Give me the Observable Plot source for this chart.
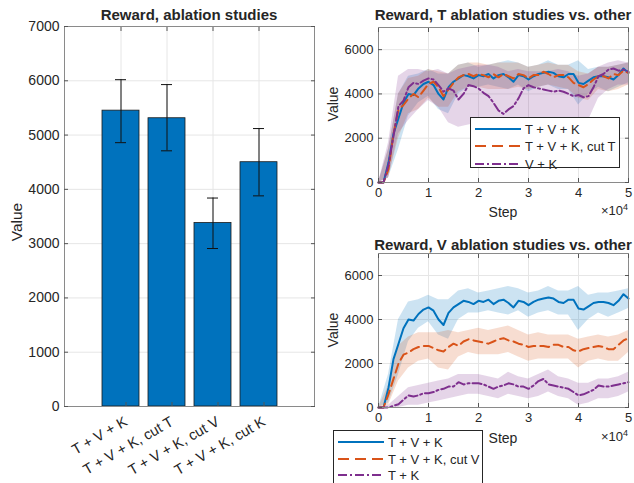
<!DOCTYPE html>
<html><head><meta charset="utf-8">
<script src="https://cdn.jsdelivr.net/npm/d3@7"></script>
<script src="https://cdn.jsdelivr.net/npm/@observablehq/plot@0.6"></script>
<style>
body{margin:0;background:#fff;font-family:"Liberation Sans",Arial,sans-serif;color:#262626}
#fig{position:relative;width:634px;height:483px;overflow:hidden;background:#fff}
#fig svg{position:absolute;overflow:visible}
.t{position:absolute;white-space:nowrap;line-height:1}
.title{font-weight:bold;font-size:15px;transform:translate(-50%,-50%)}
.lab{font-size:14px;transform:translate(-50%,-50%)}
.ylab{font-size:14px;transform:translate(-50%,-50%) rotate(-90deg)}
.ylab.big{font-size:15.5px}
.exp{font-size:13px}
.exp sup{font-size:9px;vertical-align:5px}
.legend{position:absolute;background:#fff;border:1px solid #262626;box-sizing:border-box;font-size:13px}
.legend .row{position:absolute;left:0;display:flex;align-items:center}
</style></head>
<body><div id="fig"></div>
<script>
// ---------------- data ----------------
// bar chart
const barCats = ["T + V + K", "T + V + K, cut T", "T + V + K, cut V", "T + V + K, cut K"];
const barMean = [5450, 5310, 3380, 4500];
const barLow  = [4860, 4710, 2910, 3880];
const barHigh = [6020, 5930, 3840, 5120];
const barTicksY = [0, 1000, 2000, 3000, 4000, 5000, 6000, 7000];

// time series (steps in thousands)
const stepK = [0,1,2,3,4,5,6,7,8,9,10,11,12,13,14,15,16,17,18,19,20,21,22,23,24,25,26,27,28,29,30,31,32,33,34,35,36,37,38,39,40,41,42,43,44,45,46,47,48,49,50];
const tvk   = [0,0,900,2200,2900,3600,4000,3950,4250,4450,4550,4400,4000,3750,4300,4550,4700,4850,4800,4700,4850,4800,4900,4700,4850,4900,4750,4550,4850,4800,4650,4800,4900,4950,5000,4950,4800,4750,4900,4900,4500,4450,4600,4750,4800,4800,4750,4650,4850,5150,4950];
const cutT  = [0,0,600,2200,3300,3500,3800,4000,3850,4150,4450,4550,4300,3900,4200,4500,4750,4850,4900,4800,4900,4850,4750,4900,4750,4900,4800,4700,4900,4850,4700,4850,4850,5000,4900,4750,4850,4850,4750,4500,4400,4300,4450,4650,4800,4800,4700,4900,4850,5050,4950];
const vk    = [0,0,800,2100,3450,3700,4300,4500,4450,4600,4700,4650,4400,4100,4250,4150,3750,4000,4400,4350,4250,4050,3900,3600,3250,3100,3300,3450,3800,4250,4400,4300,4250,4200,4150,4100,4150,4100,4000,3900,3950,3850,3900,4300,4800,4900,5100,5150,5050,5100,5000];
const cutV  = [0,0,600,1300,2000,2400,2500,2650,2750,2800,2800,2700,2600,2550,2750,2900,2800,3000,3100,3050,3000,2950,2900,3000,3100,3150,3050,3000,2900,2850,2750,2800,2800,2800,2750,2850,2850,2750,2750,2600,2550,2650,2700,2750,2800,2750,2650,2650,2850,3050,3150];
const tk    = [0,0,0,80,150,350,550,500,550,650,650,700,800,850,950,950,1150,1050,1100,1100,1100,1050,950,850,950,1000,1100,1050,950,950,850,1000,1200,1300,1050,1000,950,900,850,700,550,600,700,800,1000,950,950,1000,1050,1100,1150];

// shaded bands (every 2000 steps)
const bandK   = [0,2,4,6,8,10,12,14,16,18,20,22,24,26,28,30,32,34,36,38,40,42,44,46,48,50];
const tvkHi   = [0,1500,4000,4800,4900,5100,4900,4900,5300,5400,5200,5300,5400,5500,5400,5200,5300,5500,5300,5300,5500,5100,5200,5200,5300,5400];
const tvkLo   = [0,200,1500,3000,3600,3900,3300,3100,4000,4300,4300,4400,4300,4200,4400,4100,4300,4400,4200,4200,3500,4000,4300,4100,4300,4500];
const cutTHi  = [0,1500,4000,4700,4800,5100,5000,4900,5300,5400,5400,5300,5400,5400,5400,5200,5300,5400,5300,5300,5000,4900,5200,5200,5300,5400];
const cutTLo  = [0,200,2000,3100,3300,3800,3400,3400,4100,4300,4300,4200,4200,4200,4300,4200,4300,4400,4300,4200,3800,3700,4200,4100,4200,4400];
const vkHi    = [0,1800,4800,5100,5100,5000,5100,4900,5100,5200,5300,5300,5200,5000,5100,5000,5000,5000,5100,5000,4800,4900,5200,5400,5500,5400];
const vkLo    = [0,200,2200,2800,3300,3700,3400,2700,2500,2600,2700,2800,2500,2400,2400,2600,2800,2800,2800,2800,2800,2800,3800,4200,4400,4400];
const cutVHi  = [0,1000,2800,3200,3400,3400,3400,3500,3400,3500,3600,3500,3600,3700,3500,3300,3400,3300,3300,3300,3100,3200,3300,3200,3300,3500];
const cutVLo  = [0,100,1200,1800,2100,2200,1800,1700,2300,2500,2400,2400,2400,2500,2300,2100,2200,2200,2200,2200,1800,2100,2200,2100,2100,2500];
const tkHi    = [0,100,500,900,1000,1100,1200,1300,1500,1500,1500,1400,1300,1600,1400,1300,1500,1700,1400,1300,1100,1100,1300,1300,1400,1600];
const tkLo    = [0,0,0,100,100,200,300,400,500,600,600,500,400,600,500,400,500,700,500,400,100,200,400,400,500,700];

const ticksStep = [0, 10000, 20000, 30000, 40000, 50000];
const ticksValue = [0, 2000, 4000, 6000];

const topNames = ["T + V + K", "T + V + K, cut T", "V + K"];
const botNames = ["T + V + K", "T + V + K, cut V", "T + K"];

// ---------------- styles ----------------
const C = {blue: "#0072BD", orange: "#D95319", purple: "#7E2F8E"};
const DASH = {solid: null, dash: "9,5", dashdot: "9,3,2,3"};
const GRID = "#e6e6e6", FRAME = "#8a8a8a", TICK = "#555";
const fig = document.getElementById("fig");

function place(el, x, y) { el.style.left = x + "px"; el.style.top = y + "px"; fig.appendChild(el); }
function txt(cls, html, x, y) { const d = document.createElement("div"); d.className = "t " + cls; d.innerHTML = html; place(d, x, y); return d; }

// ---------------- bar chart ----------------
const bars = barCats.map((c, i) => ({c, v: barMean[i], lo: barLow[i], hi: barHigh[i]}));
const plotLeft = Plot.plot({
  width: 320, height: 483, marginLeft: 64, marginRight: 6, marginTop: 26, marginBottom: 77,
  style: {fontFamily: "Liberation Sans, Arial, sans-serif", fontSize: "14px", color: "#262626", background: "transparent", overflow: "visible"},
  x: {domain: barCats, paddingInner: 0.2, paddingOuter: 0.8},
  y: {domain: [0, 7000]},
  marks: [
    Plot.gridY(barTicksY, {stroke: GRID, strokeOpacity: 1}),
    Plot.gridX(barCats, {stroke: GRID, strokeOpacity: 1}),
    Plot.barY(bars, {x: "c", y: "v", fill: C.blue, stroke: "#1a1a1a", strokeWidth: 0.8}),
    Plot.ruleX(bars, {x: "c", y1: "lo", y2: "hi", stroke: "#111", strokeWidth: 1}),
    Plot.tickY(bars, {x: "c", y: "lo", stroke: "#111", insetLeft: 13, insetRight: 13}),
    Plot.tickY(bars, {x: "c", y: "hi", stroke: "#111", insetLeft: 13, insetRight: 13}),
    Plot.frame({stroke: FRAME}),
    Plot.axisY(barTicksY, {tickSize: -4, tickPadding: 9, tickFormat: "d", label: null, stroke: TICK}),
    Plot.axisY(barTicksY, {anchor: "right", tickSize: -4, tickFormat: () => "", label: null, stroke: TICK}),
    Plot.axisX(barCats, {tickSize: -4, tickPadding: 18, dx: 5, tickRotate: -30, label: null, stroke: TICK, fontSize: "14.5px"}),
    Plot.axisX(barCats, {anchor: "top", tickSize: -4, tickFormat: () => "", label: null, stroke: TICK})
  ]
});
plotLeft.style.left = "0px"; plotLeft.style.top = "0px";
fig.appendChild(plotLeft);
txt("title", "Reward, ablation studies", 189, 14);
txt("ylab big", "Value", 17, 222);

// ---------------- line charts ----------------
function seriesRows(y) { return stepK.map((k, i) => ({s: k * 1000, v: y[i]})); }
function bandRows(lo, hi) { return bandK.map((k, i) => ({s: k * 1000, lo: lo[i], hi: hi[i]})); }

function linePlot(height, mt, mb, series) {
  const marks = [
    Plot.gridX(ticksStep, {stroke: GRID, strokeOpacity: 1}),
    Plot.gridY(ticksValue, {stroke: GRID, strokeOpacity: 1})
  ];
  for (const s of series) marks.push(Plot.areaY(bandRows(s.lo, s.hi), {x: "s", y1: "lo", y2: "hi", fill: s.color, fillOpacity: 0.2, curve: "linear"}));
  for (const s of series) marks.push(Plot.lineY(seriesRows(s.y), {x: "s", y: "v", stroke: s.color, strokeWidth: 2, strokeDasharray: s.dash}));
  marks.push(
    Plot.frame({stroke: FRAME}),
    Plot.axisX(ticksStep, {tickSize: -4, tickPadding: 9, tickFormat: d => d / 10000, label: null, stroke: TICK}),
    Plot.axisX(ticksStep, {anchor: "top", tickSize: -4, tickFormat: () => "", label: null, stroke: TICK}),
    Plot.axisY(ticksValue, {tickSize: -4, tickPadding: 9, tickFormat: "d", label: null, stroke: TICK}),
    Plot.axisY(ticksValue, {anchor: "right", tickSize: -4, tickFormat: () => "", label: null, stroke: TICK})
  );
  return Plot.plot({
    width: 314, height, marginLeft: 58, marginRight: 6, marginTop: mt, marginBottom: mb,
    style: {fontFamily: "Liberation Sans, Arial, sans-serif", fontSize: "13px", color: "#262626", background: "transparent", overflow: "visible"},
    x: {domain: [0, 50000]},
    y: {domain: [0, 7000]},
    marks
  });
}

const topSeries = [
  {name: topNames[0], y: tvk, lo: tvkLo, hi: tvkHi, color: C.blue, dash: DASH.solid},
  {name: topNames[1], y: cutT, lo: cutTLo, hi: cutTHi, color: C.orange, dash: DASH.dash},
  {name: topNames[2], y: vk, lo: vkLo, hi: vkHi, color: C.purple, dash: DASH.dashdot}
];
const botSeries = [
  {name: botNames[0], y: tvk, lo: tvkLo, hi: tvkHi, color: C.blue, dash: DASH.solid},
  {name: botNames[1], y: cutV, lo: cutVLo, hi: cutVHi, color: C.orange, dash: DASH.dash},
  {name: botNames[2], y: tk, lo: tkLo, hi: tkHi, color: C.purple, dash: DASH.dashdot}
];

const plotTop = linePlot(230, 27, 48, topSeries);
plotTop.style.left = "320px"; plotTop.style.top = "0px"; fig.appendChild(plotTop);
const plotBot = linePlot(253, 23, 76, botSeries);
plotBot.style.left = "320px"; plotBot.style.top = "230px"; fig.appendChild(plotBot);

txt("title", "Reward, T ablation studies vs. other", 503, 14);
txt("title", "Reward, V ablation studies vs. other", 503, 244);
txt("ylab", "Value", 333, 104);
txt("ylab", "Value", 333, 330);
txt("lab", "Step", 503, 212);
txt("lab", "Step", 503, 438);
const e1 = txt("exp", "&times;10<sup>4</sup>", 0, 203); e1.style.left = ""; e1.style.right = "6px";
const e2 = txt("exp", "&times;10<sup>4</sup>", 0, 429); e2.style.left = ""; e2.style.right = "6px";

function legend(series, x, y, w, h, rowY) {
  const box = document.createElement("div");
  box.className = "legend";
  box.style.width = w + "px"; box.style.height = h + "px";
  series.forEach((s, i) => {
    const row = document.createElement("div");
    row.className = "row";
    row.style.top = (rowY[i] - 9) + "px";
    row.style.height = "18px";
    const ns = "http://www.w3.org/2000/svg";
    const svg = document.createElementNS(ns, "svg");
    svg.setAttribute("width", 52); svg.setAttribute("height", 18);
    svg.style.position = "static";
    const ln = document.createElementNS(ns, "line");
    ln.setAttribute("x1", 4); ln.setAttribute("x2", 50); ln.setAttribute("y1", 9); ln.setAttribute("y2", 9);
    ln.setAttribute("stroke", s.color); ln.setAttribute("stroke-width", 2);
    if (s.dash) ln.setAttribute("stroke-dasharray", s.dash === DASH.dash ? "11,6" : "9,3,2,3");
    svg.appendChild(ln);
    row.appendChild(svg);
    const t = document.createElement("span");
    t.textContent = s.name; t.style.marginLeft = "2px";
    row.appendChild(t);
    box.appendChild(row);
  });
  place(box, x, y);
}
legend(topSeries, 470, 117, 150, 51, [11, 28, 46]);
legend(botSeries, 333, 430, 150, 70, [11, 28, 44]);
</script>
</body></html>
